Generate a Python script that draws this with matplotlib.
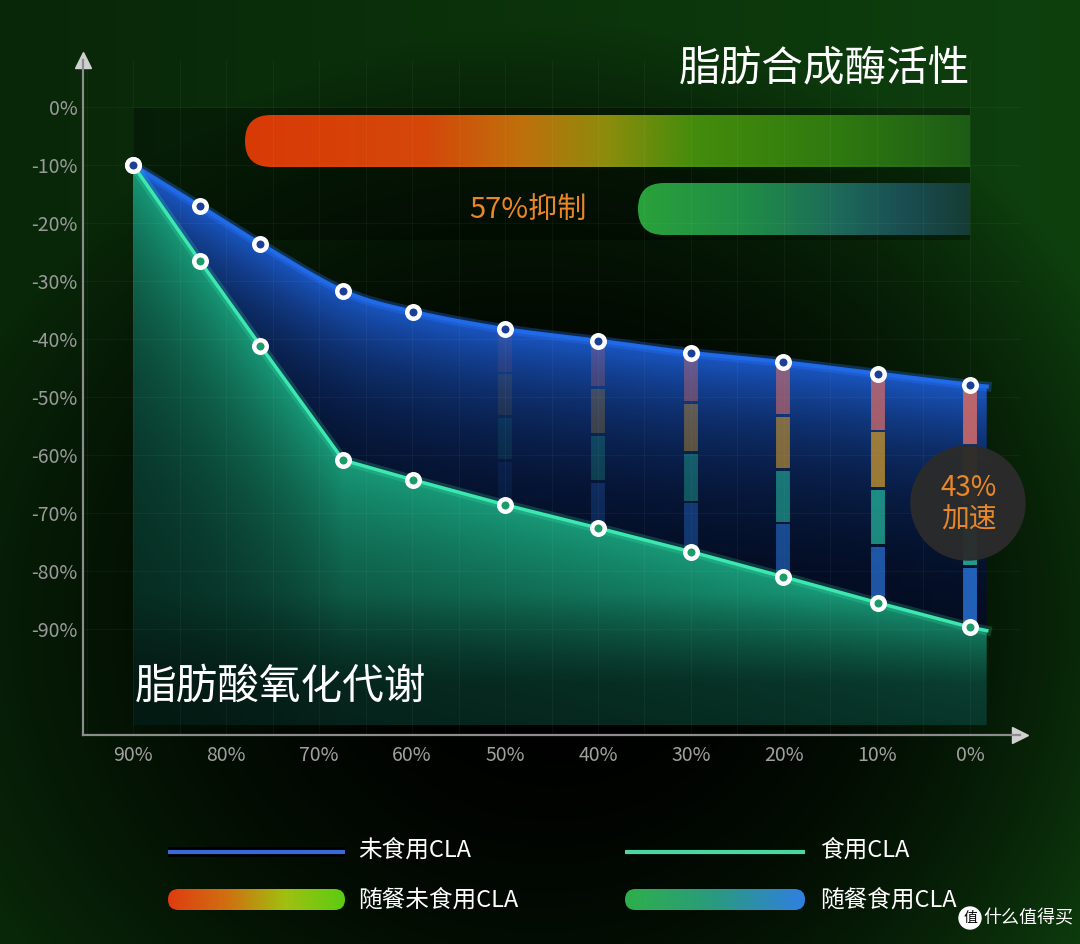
import numpy as np
import matplotlib.pyplot as plt
from matplotlib.patches import FancyBboxPatch, Circle, Rectangle
from matplotlib.colors import LinearSegmentedColormap, to_rgb

plt.rcParams['font.family'] = ['Noto Sans CJK SC', 'DejaVu Sans']

# 数据
x_vals = [90, 82.8, 76.3, 67.4, 59.9, 50, 40, 30, 20.1, 9.9, 0, -1.8]
no_cla = [-10, -17.1, -23.6, -31.7, -35.3, -38.3, -40.3, -42.4, -44.0, -46.0, -47.9, -48.2]
with_cla = [-10, -26.6, -41.2, -60.9, -64.3, -68.6, -72.6, -76.7, -81.0, -85.5, -89.7, -90.3]
x_ticks = [90, 80, 70, 60, 50, 40, 30, 20, 10, 0]
x_labels = ['90%', '80%', '70%', '60%', '50%', '40%', '30%', '20%', '10%', '0%']
y_ticks = [0, -10, -20, -30, -40, -50, -60, -70, -80, -90]
y_labels = ['0%', '-10%', '-20%', '-30%', '-40%', '-50%', '-60%', '-70%', '-80%', '-90%']
bar_idx = [5, 6, 7, 8, 9, 10]
bar_alpha = [0.12, 0.28, 0.45, 0.65, 0.8, 0.92]
seg_colors = ['#c86868', '#c09030', '#22a894', '#2468c4']

XL, XR = 95.38, -5.38
YB, YT = -108.3, 8.1
FILL_BOTTOM = -106.6


def smooth(xs, ys, n=24):
    P = np.column_stack([xs, ys]).astype(float)
    P = np.vstack([P[0] * 2 - P[1], P, P[-1] * 2 - P[-2]])
    out = []
    t = np.linspace(0, 1, n, endpoint=False)[:, None]
    for i in range(1, len(P) - 2):
        p0, p1, p2, p3 = P[i - 1], P[i], P[i + 1], P[i + 2]
        seg = 0.5 * (2 * p1 + (-p0 + p2) * t + (2 * p0 - 5 * p1 + 4 * p2 - p3) * t ** 2
                     + (-p0 + 3 * p1 - 3 * p2 + p3) * t ** 3)
        out.append(seg)
    out.append(P[-2][None])
    s = np.vstack(out)
    return s[:, 0], s[:, 1]


def grad_bar(ax, x0, x1, y0, y1, stops, rounded_right=False):
    cmap = LinearSegmentedColormap.from_list('g', stops)
    im = ax.imshow(np.linspace(0, 1, 256)[None, :], cmap=cmap, aspect='auto',
                   extent=(x0, x1, y1, y0), interpolation='bilinear', zorder=2)
    h = y1 - y0
    w = (x1 - x0) if rounded_right else (x1 - x0 + h)
    box = FancyBboxPatch((x0, y0), w, h, boxstyle='round,pad=0,rounding_size=%f' % (h / 2),
                         transform=ax.transData, facecolor='none', edgecolor='none')
    ax.add_patch(box)
    im.set_clip_path(box)


fig = plt.figure(figsize=(10.8, 9.44), dpi=100, facecolor='black')

# 背景
bg = fig.add_axes([0, 0, 1, 1], zorder=0)
bg.set_xlim(0, 1080)
bg.set_ylim(944, 0)
bg.axis('off')
yy, xx = np.mgrid[0:944:4, 0:1080:4]
t = np.sqrt(((xx - 560) / 640) ** 2 + ((yy - 620) / 600) ** 2)
f = np.clip(t, 0, 1) ** 2.2 * (0.6 + 0.4 * xx / 1080)
green = np.array([14, 64, 14]) / 255
bg.imshow(f[..., None] * green, extent=(0, 1080, 944, 0), aspect='auto',
          interpolation='bilinear', zorder=0)
bg.add_patch(Rectangle((133, 108), 837, 132, color='black', alpha=0.3, lw=0, zorder=1))

grad_bar(bg, 245, 970, 115, 167,
         [(0, '#d93a06'), (0.25, '#d4480a'), (0.38, '#c0700c'), (0.5, '#8c8c0c'),
          (0.62, '#448c0c'), (0.82, '#2f7a10'), (1, '#1d5c16')])
grad_bar(bg, 638, 970, 183, 235,
         [(0, '#2aa23a'), (0.35, '#1f8a48'), (0.6, '#1d6a5a'), (0.8, '#1a4e52'), (1, '#163c34')])
bg.text(970, 70, '脂肪合成酶活性', color='white', fontsize=30, ha='right', va='center', zorder=3)
bg.text(528, 210, '57%抑制', color='#e8862a', fontsize=21, ha='center', va='center', zorder=3)

# 主图
ax = fig.add_axes([83 / 1080, (944 - 735) / 944, 937 / 1080, 675 / 944], zorder=1)
ax.set_facecolor('none')

bx, by = smooth(x_vals, no_cla)
gx = np.array(x_vals[::-1])
gy = np.array(with_cla[::-1])
by_green = np.interp(bx, gx, gy)

xs = np.linspace(XL, XR, 500)
ys = np.linspace(YT, YB, 420)
X, Y = np.meshgrid(xs, ys)
Bi = np.interp(X, bx[::-1], by[::-1])
Gi = np.interp(X, gx, gy)

# 蓝色填充
db = np.clip(Bi - Y, 0, None)
kb = np.exp(-db / 16)[..., None]
blue_img = kb * np.array(to_rgb('#1c5cd0')) + (1 - kb) * np.array(to_rgb('#020614'))
poly_b = ax.fill_between(bx, by_green, by, color='none', lw=0)
im_b = ax.imshow(blue_img, extent=(XL, XR, YB, YT), aspect='auto', zorder=1,
                 interpolation='bilinear', alpha=0.95)
im_b.set_clip_path(poly_b.get_paths()[0], transform=ax.transData)

# 绿色填充
dg = np.clip(Gi - Y, 0, None)
kg = (0.15 + 0.85 * np.exp(-dg / 30)) * np.clip((Y + 112) / 28, 0.45, 1)
kg = kg[..., None]
green_img = kg * np.array(to_rgb('#189a78')) + (1 - kg) * np.array(to_rgb('#020e0a'))
poly_g = ax.fill_between(x_vals, with_cla, FILL_BOTTOM, color='none', lw=0)
im_g = ax.imshow(green_img, extent=(XL, XR, YB, YT), aspect='auto', zorder=1,
                 interpolation='bilinear')
im_g.set_clip_path(poly_g.get_paths()[0], transform=ax.transData)

# 竖向彩色条
for i, a in zip(bar_idx, bar_alpha):
    top, bot = no_cla[i], with_cla[i]
    edges = np.linspace(top, bot, 5)
    for k in range(4):
        ax.plot([x_vals[i], x_vals[i]], [edges[k] - 0.25, edges[k + 1] + 0.25],
                color=seg_colors[k], lw=10, alpha=a, solid_capstyle='butt', zorder=3)

# 折线
ax.plot(bx, by, color='#2a70ff', lw=7, alpha=0.3, zorder=4)
ax.plot(bx, by, color='#1f6ae6', lw=3, zorder=4)
ax.plot(x_vals, with_cla, color='#40ffc0', lw=7, alpha=0.18, zorder=4)
ax.plot(x_vals, with_cla, color='#3de8b0', lw=2.5, zorder=4)
ax.plot(x_vals[:-1], with_cla[:-1], 'o', ms=9, mfc='#1b9a6a', mec='white', mew=3.2, zorder=6)
ax.plot(x_vals[:-1], no_cla[:-1], 'o', ms=9, mfc='#1b3f96', mec='white', mew=3.2, zorder=6)

ax.set_xlim(XL, XR)
ax.set_ylim(YB, YT)
ax.set_xticks(x_ticks)
ax.set_xticklabels(x_labels)
ax.set_yticks(y_ticks)
ax.set_yticklabels(y_labels)
ax.set_xticks(np.arange(95, -5, -5), minor=True)
ax.tick_params(which='both', length=0)
ax.tick_params(axis='x', labelsize=14, labelcolor='#a0a0a0', pad=7)
ax.tick_params(axis='y', labelsize=14, labelcolor='#9a9a9a', pad=4)
ax.set_axisbelow(False)
ax.grid(which='both', color='white', alpha=0.04, lw=0.8)
for s in ['top', 'right']:
    ax.spines[s].set_visible(False)
for s in ['left', 'bottom']:
    ax.spines[s].set_color('#8c8c8c')
    ax.spines[s].set_linewidth(1.6)
ax.plot(0, 1, marker='^', ms=11, color='#d0d0d0', transform=ax.transAxes, clip_on=False)
ax.plot(1, 0, marker='>', ms=11, color='#d0d0d0', transform=ax.transAxes, clip_on=False)
ax.text(0.055, 0.07, '脂肪酸氧化代谢', transform=ax.transAxes, color='white',
        fontsize=30, ha='left', va='center', zorder=7)

# 前景: 圆形标注与图例
fg = fig.add_axes([0, 0, 1, 1], zorder=2)
fg.set_xlim(0, 1080)
fg.set_ylim(944, 0)
fg.axis('off')
fg.add_patch(Circle((968, 503), 57, color='#2b2b2b', alpha=0.96, zorder=1))
fg.text(969, 488, '43%', color='#e8862a', fontsize=20, ha='center', va='center', zorder=2)
fg.text(969, 520, '加速', color='#e8862a', fontsize=20, ha='center', va='center', zorder=2)

fg.plot([168, 345], [852, 852], color='black', lw=7, solid_capstyle='butt')
fg.plot([168, 345], [852, 852], color='#3a6ad8', lw=3, solid_capstyle='butt')
fg.plot([625, 805], [852, 852], color='#4ad8a0', lw=3, solid_capstyle='butt')
grad_bar(fg, 168, 345, 889, 910, ['#e03c10', '#d07010', '#a0c010', '#5ccc12'], rounded_right=True)
grad_bar(fg, 625, 805, 889, 910, ['#2eb04a', '#2a9a80', '#3080e0'], rounded_right=True)
fg.text(358, 850, '未食用CLA', color='white', fontsize=17, ha='left', va='center')
fg.text(820, 850, '食用CLA', color='white', fontsize=17, ha='left', va='center')
fg.text(358, 900, '随餐未食用CLA', color='white', fontsize=17, ha='left', va='center')
fg.text(820, 900, '随餐食用CLA', color='white', fontsize=17, ha='left', va='center')

fg.add_patch(Circle((970, 918), 11, color='white', zorder=3))
fg.text(970, 918, '值', color='black', fontsize=10, ha='center', va='center', zorder=4)
fg.text(1073, 918, '什么值得买', color='white', fontsize=13, ha='right', va='center', zorder=4)

fig.savefig('out.png', dpi=100, facecolor=fig.get_facecolor())
